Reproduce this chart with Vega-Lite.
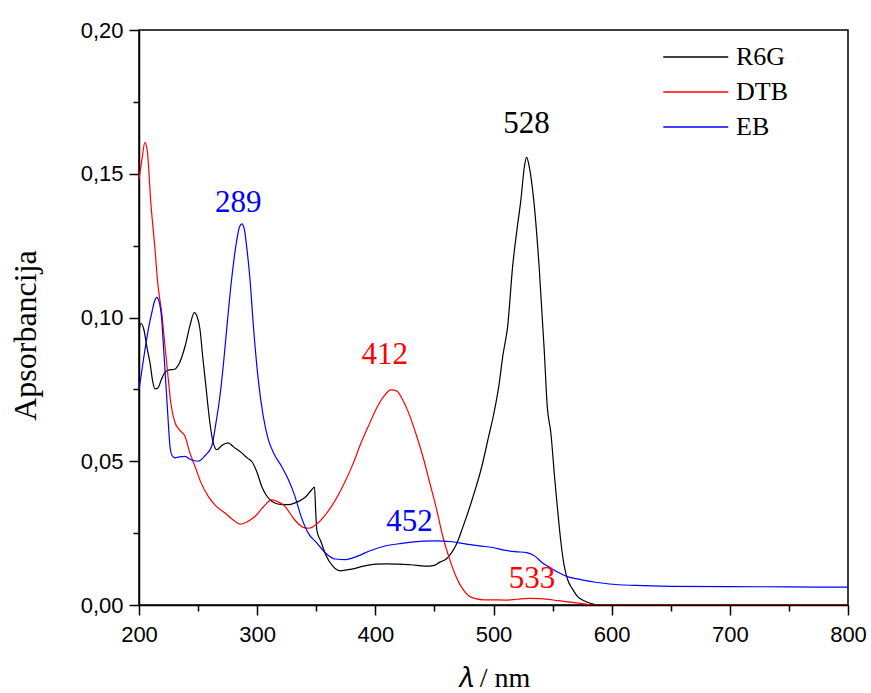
{
  "$schema": "https://vega.github.io/schema/vega-lite/v6.json",
  "width": 709,
  "height": 575,
  "autosize": "none",
  "padding": {"left": 139, "top": 30, "right": 23, "bottom": 88},
  "background": "white",
  "config": {"view": {"stroke": "black", "strokeWidth": 1.5}},
  "datasets": {
    "spectra": [
      {"s":"R6G","x":200,"y":0.095},{"s":"R6G","x":201.7,"y":0.098},{"s":"R6G","x":204,"y":0.096},{"s":"R6G","x":207,"y":0.089},{"s":"R6G","x":209.3,"y":0.0843},{"s":"R6G","x":211.5,"y":0.078},{"s":"R6G","x":213.5,"y":0.0752},{"s":"R6G","x":216,"y":0.0755},{"s":"R6G","x":219,"y":0.0785},{"s":"R6G","x":222,"y":0.081},{"s":"R6G","x":225,"y":0.0817},{"s":"R6G","x":230,"y":0.082},{"s":"R6G","x":234,"y":0.084},{"s":"R6G","x":239,"y":0.09},{"s":"R6G","x":243,"y":0.097},{"s":"R6G","x":246.8,"y":0.1017},{"s":"R6G","x":249,"y":0.1005},{"s":"R6G","x":251.6,"y":0.0959},{"s":"R6G","x":254,"y":0.086},{"s":"R6G","x":256,"y":0.0785},{"s":"R6G","x":260,"y":0.0634},{"s":"R6G","x":262,"y":0.058},{"s":"R6G","x":264.3,"y":0.0547},{"s":"R6G","x":266,"y":0.054},{"s":"R6G","x":270,"y":0.0555},{"s":"R6G","x":275.5,"y":0.0564},{"s":"R6G","x":280,"y":0.055},{"s":"R6G","x":286.9,"y":0.0529},{"s":"R6G","x":292,"y":0.051},{"s":"R6G","x":295.3,"y":0.05},{"s":"R6G","x":300,"y":0.046},{"s":"R6G","x":303.8,"y":0.0413},{"s":"R6G","x":308,"y":0.038},{"s":"R6G","x":312,"y":0.0362},{"s":"R6G","x":315,"y":0.0355},{"s":"R6G","x":320,"y":0.035},{"s":"R6G","x":326.3,"y":0.0349},{"s":"R6G","x":332,"y":0.0355},{"s":"R6G","x":337.6,"y":0.0366},{"s":"R6G","x":342,"y":0.038},{"s":"R6G","x":346.1,"y":0.0401},{"s":"R6G","x":348.5,"y":0.041},{"s":"R6G","x":349.5,"y":0.033},{"s":"R6G","x":350.5,"y":0.026},{"s":"R6G","x":354,"y":0.022},{"s":"R6G","x":358,"y":0.0175},{"s":"R6G","x":364,"y":0.0135},{"s":"R6G","x":370,"y":0.0119},{"s":"R6G","x":380,"y":0.0125},{"s":"R6G","x":390,"y":0.0135},{"s":"R6G","x":400,"y":0.0142},{"s":"R6G","x":410,"y":0.0143},{"s":"R6G","x":420,"y":0.0142},{"s":"R6G","x":430,"y":0.014},{"s":"R6G","x":442,"y":0.0135},{"s":"R6G","x":450,"y":0.0138},{"s":"R6G","x":455,"y":0.015},{"s":"R6G","x":460,"y":0.016},{"s":"R6G","x":465,"y":0.0185},{"s":"R6G","x":468,"y":0.0206},{"s":"R6G","x":474,"y":0.027},{"s":"R6G","x":482,"y":0.0368},{"s":"R6G","x":490,"y":0.048},{"s":"R6G","x":496,"y":0.0588},{"s":"R6G","x":500,"y":0.066},{"s":"R6G","x":504.5,"y":0.0761},{"s":"R6G","x":508,"y":0.087},{"s":"R6G","x":512,"y":0.097},{"s":"R6G","x":516.2,"y":0.1178},{"s":"R6G","x":520,"y":0.131},{"s":"R6G","x":523.2,"y":0.141},{"s":"R6G","x":526,"y":0.152},{"s":"R6G","x":528,"y":0.1558},{"s":"R6G","x":530,"y":0.153},{"s":"R6G","x":534,"y":0.141},{"s":"R6G","x":538.6,"y":0.1178},{"s":"R6G","x":542.9,"y":0.0889},{"s":"R6G","x":545.5,"y":0.069},{"s":"R6G","x":548.5,"y":0.06},{"s":"R6G","x":552,"y":0.043},{"s":"R6G","x":554.2,"y":0.0333},{"s":"R6G","x":557,"y":0.022},{"s":"R6G","x":559.8,"y":0.0137},{"s":"R6G","x":563,"y":0.0085},{"s":"R6G","x":566.8,"y":0.0056},{"s":"R6G","x":571,"y":0.003},{"s":"R6G","x":576.6,"y":0.0015},{"s":"R6G","x":582,"y":0.0006},{"s":"R6G","x":588,"y":0},{"s":"R6G","x":700,"y":0},{"s":"R6G","x":800,"y":0},
      {"s":"DTB","x":200,"y":0.148},{"s":"DTB","x":202.5,"y":0.155},{"s":"DTB","x":205,"y":0.1609},{"s":"DTB","x":207,"y":0.158},{"s":"DTB","x":210,"y":0.14},{"s":"DTB","x":213.8,"y":0.1225},{"s":"DTB","x":215.5,"y":0.1134},{"s":"DTB","x":219.4,"y":0.101},{"s":"DTB","x":222,"y":0.09},{"s":"DTB","x":224.8,"y":0.0785},{"s":"DTB","x":227,"y":0.07},{"s":"DTB","x":230.5,"y":0.0634},{"s":"DTB","x":234,"y":0.061},{"s":"DTB","x":238.9,"y":0.0587},{"s":"DTB","x":243,"y":0.053},{"s":"DTB","x":247.4,"y":0.0482},{"s":"DTB","x":252,"y":0.043},{"s":"DTB","x":258.6,"y":0.0378},{"s":"DTB","x":265,"y":0.0345},{"s":"DTB","x":272.8,"y":0.032},{"s":"DTB","x":280,"y":0.0295},{"s":"DTB","x":285.5,"y":0.0281},{"s":"DTB","x":291,"y":0.0288},{"s":"DTB","x":298.1,"y":0.0308},{"s":"DTB","x":305,"y":0.034},{"s":"DTB","x":312.3,"y":0.0366},{"s":"DTB","x":316,"y":0.0362},{"s":"DTB","x":323.5,"y":0.0343},{"s":"DTB","x":331,"y":0.03},{"s":"DTB","x":337,"y":0.0275},{"s":"DTB","x":340.4,"y":0.0268},{"s":"DTB","x":344,"y":0.0267},{"s":"DTB","x":350,"y":0.028},{"s":"DTB","x":357,"y":0.031},{"s":"DTB","x":364,"y":0.035},{"s":"DTB","x":374,"y":0.0426},{"s":"DTB","x":381,"y":0.049},{"s":"DTB","x":388,"y":0.0565},{"s":"DTB","x":395,"y":0.063},{"s":"DTB","x":402,"y":0.0692},{"s":"DTB","x":408,"y":0.073},{"s":"DTB","x":413,"y":0.0748},{"s":"DTB","x":418,"y":0.0745},{"s":"DTB","x":423,"y":0.0715},{"s":"DTB","x":428,"y":0.067},{"s":"DTB","x":434,"y":0.06},{"s":"DTB","x":440,"y":0.052},{"s":"DTB","x":446,"y":0.0426},{"s":"DTB","x":452,"y":0.033},{"s":"DTB","x":457,"y":0.024},{"s":"DTB","x":462,"y":0.017},{"s":"DTB","x":468,"y":0.0102},{"s":"DTB","x":474,"y":0.0055},{"s":"DTB","x":479,"y":0.0032},{"s":"DTB","x":485,"y":0.0022},{"s":"DTB","x":492,"y":0.0018},{"s":"DTB","x":500,"y":0.0018},{"s":"DTB","x":510,"y":0.0017},{"s":"DTB","x":520,"y":0.002},{"s":"DTB","x":530,"y":0.0023},{"s":"DTB","x":540,"y":0.0022},{"s":"DTB","x":555,"y":0.0015},{"s":"DTB","x":565,"y":0.001},{"s":"DTB","x":575,"y":0.0005},{"s":"DTB","x":585,"y":0},{"s":"DTB","x":700,"y":0},{"s":"DTB","x":800,"y":0},
      {"s":"EB","x":200,"y":0.075},{"s":"EB","x":201.7,"y":0.0796},{"s":"EB","x":204,"y":0.086},{"s":"EB","x":207.9,"y":0.0959},{"s":"EB","x":211,"y":0.102},{"s":"EB","x":213,"y":0.1055},{"s":"EB","x":215,"y":0.107},{"s":"EB","x":217,"y":0.1055},{"s":"EB","x":219.2,"y":0.0994},{"s":"EB","x":221,"y":0.088},{"s":"EB","x":223.4,"y":0.0727},{"s":"EB","x":225,"y":0.062},{"s":"EB","x":226.2,"y":0.0552},{"s":"EB","x":228,"y":0.052},{"s":"EB","x":230.5,"y":0.0512},{"s":"EB","x":234,"y":0.0515},{"s":"EB","x":238.9,"y":0.0517},{"s":"EB","x":244,"y":0.0505},{"s":"EB","x":250.2,"y":0.05},{"s":"EB","x":256,"y":0.052},{"s":"EB","x":261.5,"y":0.0552},{"s":"EB","x":265,"y":0.063},{"s":"EB","x":268.5,"y":0.0727},{"s":"EB","x":271.5,"y":0.084},{"s":"EB","x":274.2,"y":0.0959},{"s":"EB","x":278.4,"y":0.1134},{"s":"EB","x":282,"y":0.125},{"s":"EB","x":285,"y":0.1315},{"s":"EB","x":287,"y":0.1326},{"s":"EB","x":289,"y":0.131},{"s":"EB","x":291,"y":0.125},{"s":"EB","x":293.9,"y":0.1134},{"s":"EB","x":297,"y":0.096},{"s":"EB","x":300.9,"y":0.0785},{"s":"EB","x":305,"y":0.066},{"s":"EB","x":309.4,"y":0.0576},{"s":"EB","x":315,"y":0.052},{"s":"EB","x":320.7,"y":0.0482},{"s":"EB","x":326,"y":0.044},{"s":"EB","x":332,"y":0.0378},{"s":"EB","x":337,"y":0.031},{"s":"EB","x":343.2,"y":0.025},{"s":"EB","x":350,"y":0.0218},{"s":"EB","x":358,"y":0.018},{"s":"EB","x":366,"y":0.016},{"s":"EB","x":375,"y":0.0158},{"s":"EB","x":385,"y":0.017},{"s":"EB","x":395,"y":0.0188},{"s":"EB","x":409,"y":0.0206},{"s":"EB","x":420,"y":0.0213},{"s":"EB","x":429,"y":0.0218},{"s":"EB","x":440,"y":0.0222},{"s":"EB","x":451,"y":0.0223},{"s":"EB","x":465,"y":0.022},{"s":"EB","x":477,"y":0.0212},{"s":"EB","x":490,"y":0.0205},{"s":"EB","x":499,"y":0.02},{"s":"EB","x":510,"y":0.019},{"s":"EB","x":520,"y":0.0185},{"s":"EB","x":527,"y":0.0183},{"s":"EB","x":535,"y":0.017},{"s":"EB","x":541,"y":0.0148},{"s":"EB","x":548,"y":0.013},{"s":"EB","x":555,"y":0.0113},{"s":"EB","x":563,"y":0.0098},{"s":"EB","x":572,"y":0.009},{"s":"EB","x":585,"y":0.008},{"s":"EB","x":598,"y":0.0073},{"s":"EB","x":620,"y":0.0068},{"s":"EB","x":650,"y":0.0065},{"s":"EB","x":700,"y":0.0064},{"s":"EB","x":750,"y":0.0063},{"s":"EB","x":800,"y":0.0062}
    ],
    "peaks": [
      {"s":"R6G","x":528,"y":0.1672,"label":"528"},
      {"s":"EB","x":284,"y":0.1398,"label":"289"},
      {"s":"DTB","x":408,"y":0.0868,"label":"412"},
      {"s":"EB","x":429,"y":0.0288,"label":"452"},
      {"s":"DTB","x":532.5,"y":0.0089,"label":"533"}
    ]
  },
  "layer": [
    {
      "data": {"name": "spectra"},
      "mark": {"type": "line", "strokeWidth": 1.2, "interpolate": "monotone", "clip": true},
      "encoding": {
        "x": {"field": "x", "type": "quantitative",
          "scale": {"domain": [200, 800], "nice": false, "zero": false},
          "axis": {"values": [200,300,400,500,600,700,800], "grid": false, "domainColor": "black", "domainWidth": 1.5,
            "tickColor": "black", "tickWidth": 1.5, "tickSize": 10, "labelFont": "Liberation Sans", "labelFontSize": 22,
            "labelColor": "black", "labelPadding": 9, "labelFlush": false,
            "title": "𝜆 / nm", "titleFont": "Liberation Serif", "titleFontSize": 28, "titleFontWeight": "normal",
            "titleColor": "black", "titlePadding": 19}},
        "y": {"field": "y", "type": "quantitative",
          "scale": {"domain": [0, 0.2], "nice": false},
          "axis": {"values": [0,0.05,0.1,0.15,0.2], "grid": false, "domainColor": "black", "domainWidth": 1.5,
            "tickColor": "black", "tickWidth": 1.5, "tickSize": 10, "labelFont": "Liberation Sans", "labelFontSize": 22,
            "labelColor": "black", "labelPadding": 6, "labelFlush": false,
            "labelExpr": "replace(format(datum.value, '.2f'), '.', ',')",
            "title": "Apsorbancija", "titleFont": "Liberation Serif", "titleFontSize": 32, "titleFontWeight": "normal",
            "titleColor": "black", "titlePadding": 38, "titleY": 305}},
        "color": {"field": "s", "type": "nominal",
          "scale": {"domain": ["R6G","DTB","EB"], "range": ["#000000","#ff0000","#0000ff"]},
          "legend": {"title": null, "orient": "none", "legendX": 556, "legendY": 10,
            "symbolType": "M-3,0H1", "symbolSize": 1056, "symbolStrokeWidth": 1.5,
            "labelFont": "Liberation Serif", "labelFontSize": 26, "labelColor": "black", "rowPadding": 5, "labelOffset": 7}}
      }
    },
    {
      "data": {"name": "peaks"},
      "mark": {"type": "text", "font": "Liberation Serif", "fontSize": 31, "baseline": "middle", "align": "center"},
      "encoding": {
        "x": {"field": "x", "type": "quantitative",
          "axis": {"orient": "bottom", "values": [250,350,450,550,650,750], "labels": false, "domain": false, "grid": false,
            "tickColor": "black", "tickWidth": 1.5, "tickSize": 6, "title": null}},
        "y": {"field": "y", "type": "quantitative",
          "axis": {"orient": "left", "values": [0.025,0.075,0.125,0.175], "labels": false, "domain": false, "grid": false,
            "tickColor": "black", "tickWidth": 1.5, "tickSize": 6, "title": null}},
        "text": {"field": "label"},
        "color": {"field": "s", "type": "nominal", "legend": null}
      }
    }
  ],
  "resolve": {"axis": {"x": "independent", "y": "independent"}}
}
